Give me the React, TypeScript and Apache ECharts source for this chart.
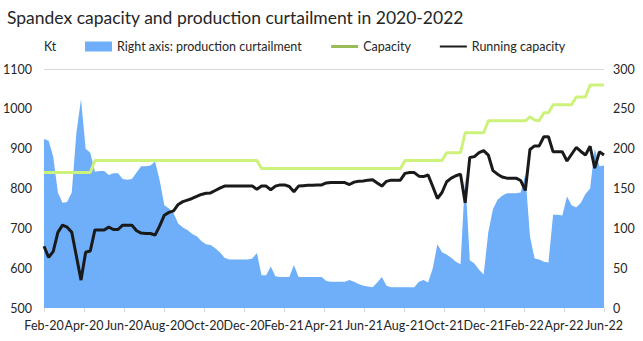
import React, { useEffect, useRef } from "react";
import * as echarts from "echarts";

const TITLE = "Spandex capacity and production curtailment in 2020-2022";
const TICK_LABELS = ["Feb-20", "Apr-20", "Jun-20", "Aug-20", "Oct-20", "Dec-20", "Feb-21", "Apr-21", "Jun-21", "Aug-21", "Oct-21", "Dec-21", "Feb-22", "Apr-22", "Jun-22"];

// weekly production curtailment (right axis, Kt)
const curtailment = [
  212, 210, 190, 145, 132, 133, 145, 220, 262, 200,
  195, 171, 172, 172, 167, 169, 169, 162, 161, 162,
  170, 178, 178, 179, 184, 160, 129, 125, 119, 106,
  101, 98, 93, 90, 84, 80, 79, 75, 70, 63,
  61, 61, 61, 61, 61, 62, 69, 41, 41, 52,
  40, 39, 39, 39, 54, 39, 39, 39, 39, 39,
  39, 34, 33, 33, 33, 33, 35, 33, 30, 28,
  27, 26, 32, 39, 28, 26, 26, 26, 26, 26,
  26, 33, 35, 32, 50, 80, 70, 67, 63, 58,
  55, 165, 60, 56, 48, 42, 95, 124, 136, 141,
  144, 144, 144, 145, 168, 90, 62, 61, 58, 57,
  117, 117, 116, 140, 129, 126, 132, 143, 150, 200,
  178, 179,
];

// weekly capacity (left axis, Kt)
const capacity = [
  840, 840, 840, 840, 840, 840, 840, 840, 840, 840,
  840, 870, 870, 870, 870, 870, 870, 870, 870, 870,
  870, 870, 870, 870, 870, 870, 870, 870, 870, 870,
  870, 870, 870, 870, 870, 870, 870, 870, 870, 870,
  870, 870, 870, 870, 870, 870, 870, 850, 850, 850,
  850, 850, 850, 850, 850, 850, 850, 850, 850, 850,
  850, 850, 850, 850, 850, 850, 850, 850, 850, 850,
  850, 850, 850, 850, 850, 850, 850, 850, 870, 870,
  870, 870, 870, 870, 870, 870, 870, 890, 890, 890,
  890, 940, 940, 940, 940, 940, 970, 970, 970, 970,
  970, 970, 970, 970, 970, 980, 972, 970, 990, 990,
  1010, 1010, 1010, 1010, 1010, 1030, 1030, 1030, 1060, 1060,
  1060, 1060,
];

// weekly running capacity (left axis, Kt)
const running = [
  655, 627, 642, 690, 708, 703, 690, 630, 570, 640,
  643, 696, 696, 696, 703, 697, 697, 708, 708, 708,
  694, 688, 687, 687, 683, 706, 733, 740, 744, 760,
  767, 771, 775, 780, 785, 788, 789, 795, 801, 806,
  806, 806, 806, 806, 806, 806, 798, 806, 806, 797,
  806, 809, 809, 805, 792, 806, 807, 808, 808, 809,
  809, 814, 815, 815, 815, 815, 810, 816, 818, 819,
  821, 822, 814, 806, 818, 821, 821, 821, 838, 840,
  840, 831, 830, 834, 805, 775, 790, 817, 826, 832,
  836, 764, 878, 880, 890, 895, 884, 845, 836, 829,
  826, 826, 826, 820, 795, 898, 907, 907, 930, 930,
  892, 892, 892, 869, 886, 903, 893, 884, 906, 851,
  892, 884,
];

const weeks: string[] = curtailment.map((_, i) => {
  const d = new Date(Date.UTC(2020, 0, 31) + i * 7 * 86400000);
  return d.toISOString().slice(0, 10);
});

const FONT = "Lato";
const TXT = "#262626";

export default function App() {
  const ref = useRef<HTMLDivElement>(null);
  useEffect(() => {
    if (!ref.current) return;
    const chart = echarts.init(ref.current, null, { renderer: "svg" });
    chart.setOption({
      animation: false,
      textStyle: { fontFamily: FONT },
      title: {
        text: TITLE,
        left: 2,
        top: 3,
        textStyle: { fontSize: 17.5, fontWeight: "normal", color: TXT, fontFamily: FONT },
      },
      legend: {
        left: 85,
        top: 40,
        padding: 0,
        itemWidth: 27,
        itemHeight: 10,
        itemGap: 28,
        textStyle: { fontSize: 12.5, color: TXT, fontFamily: FONT },
        data: [
          { name: "Right axis: production curtailment", icon: "rect" },
          { name: "Capacity", lineStyle: { color: "#9BBB59", width: 3 }, itemStyle: { opacity: 0 } },
          { name: "Running capacity", itemStyle: { opacity: 0 } },
        ],
      },
      grid: { left: 43, right: 39, top: 69, bottom: 33, containLabel: false },
      xAxis: [
        {
          type: "category",
          data: weeks,
          boundaryGap: false,
          show: false,
        },
        {
          type: "value",
          position: "bottom",
          min: 0,
          max: (TICK_LABELS.length - 1) * 2,
          interval: 2,
          axisLine: { show: false },
          axisTick: { show: true, length: 4, lineStyle: { color: "#d9d9d9" } },
          splitLine: { show: false },
          axisLabel: {
            margin: 11,
            fontSize: 12.5,
            color: TXT,
            fontFamily: FONT,
            hideOverlap: false,
            formatter: (v: number) => TICK_LABELS[Math.round(v / 2)] ?? "",
          },
        },
      ],
      yAxis: [
        {
          type: "value",
          min: 500,
          max: 1100,
          interval: 100,
          name: "Kt",
          nameLocation: "end",
          nameGap: 16,
          nameTextStyle: { align: "left", fontSize: 12.5, color: TXT, fontFamily: FONT },
          axisLine: { show: false },
          axisTick: { show: false },
          splitLine: { show: false },
          axisLabel: { margin: 12, fontSize: 12.5, color: TXT, fontFamily: FONT, formatter: (v: number) => String(v) },
        },
        {
          type: "value",
          min: 0,
          max: 300,
          interval: 50,
          position: "right",
          axisLine: { show: false },
          axisTick: { show: false },
          splitLine: { show: false },
          axisLabel: { margin: 9, fontSize: 12.5, color: TXT, fontFamily: FONT, formatter: (v: number) => String(v) },
        },
      ],
      series: [
        {
          name: "Right axis: production curtailment",
          type: "line",
          xAxisIndex: 0,
          yAxisIndex: 1,
          data: curtailment,
          symbol: "none",
          color: "#6FAEF9",
          lineStyle: { width: 0 },
          areaStyle: { color: "#6FAEF9", opacity: 1 },
          z: 1,
        },
        {
          name: "Capacity",
          type: "line",
          xAxisIndex: 0,
          yAxisIndex: 0,
          data: capacity,
          symbol: "none",
          color: "#CDF27B",
          lineStyle: { width: 3, color: "#CDF27B" },
          markLine: {
            silent: true,
            symbol: "none",
            label: { show: false },
            lineStyle: { color: "#d9d9d9", width: 1, type: "solid" },
            data: [{ yAxis: 1100 }],
          },
          z: 2,
        },
        {
          name: "Running capacity",
          type: "line",
          xAxisIndex: 0,
          yAxisIndex: 0,
          data: running,
          symbol: "none",
          color: "#1a1a1a",
          lineStyle: { width: 3, color: "#1a1a1a" },
          z: 3,
        },
      ],
    });
    return () => chart.dispose();
  }, []);
  return (
    <div
      ref={ref}
      style={{ position: "fixed", left: 0, top: 0, width: 643, height: 341, background: "#fff" }}
    />
  );
}
